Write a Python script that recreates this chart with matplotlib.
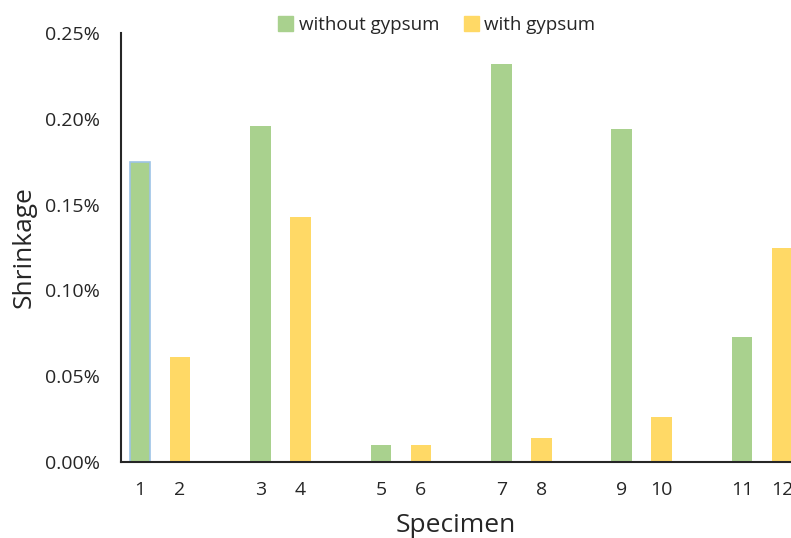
import matplotlib.pyplot as plt
import numpy as np
from matplotlib.ticker import FuncFormatter
from matplotlib.patches import Patch

plt.rcParams['font.family'] = ['Open Sans', 'DejaVu Sans']

specimens_without = ['1', '3', '5', '7', '9', '11']
specimens_with = ['2', '4', '6', '8', '10', '12']
without_gypsum = [0.175, 0.196, 0.010, 0.232, 0.194, 0.073]  # %
with_gypsum = [0.061, 0.143, 0.010, 0.014, 0.026, 0.125]  # %

green = '#A9D18E'
yellow = '#FFD966'

fig = plt.figure(figsize=(7.91, 5.38), dpi=100)
ax = fig.add_axes([120.5 / 791, 76 / 538, 1 - 120.5 / 791, (462 - 33) / 538])

g = np.arange(len(without_gypsum))
off = 0.166
w = 0.17
b1 = ax.bar(g - off, without_gypsum, width=w, color=green)
b2 = ax.bar(g + off, with_gypsum, width=w, color=yellow)
# first bar has a light blue outline in the original
b1[0].set_edgecolor('#9DC3E6')
b1[0].set_linewidth(1.2)

ax.set_xlim(-0.329, 5.24)
ax.set_ylim(0, 0.25)
ax.set_yticks([0, 0.05, 0.10, 0.15, 0.20, 0.25])
ax.yaxis.set_major_formatter(FuncFormatter(lambda v, p: f'{v:.2f}%'))

pos = np.concatenate([g - off, g + off])
labs = specimens_without + specimens_with
ax.set_xticks(pos)
ax.set_xticklabels(labs)
ax.tick_params(axis='both', length=0, labelsize=14, colors='#262626')
ax.tick_params(axis='y', pad=15)
ax.tick_params(axis='x', pad=14)

for s in ['top', 'right']:
    ax.spines[s].set_visible(False)
for s in ['left', 'bottom']:
    ax.spines[s].set_color('#262626')
    ax.spines[s].set_linewidth(1.5)

ax.set_ylabel('Shrinkage', fontsize=19, color='#262626')
ax.yaxis.set_label_coords(-0.125, 0.5)
ax.set_xlabel('Specimen', fontsize=19, color='#262626', labelpad=10)

handles = [Patch(color=green), Patch(color=yellow)]
fig.legend(handles=handles, labels=['without gypsum', 'with gypsum'],
           loc='center', bbox_to_anchor=(437 / 791, 1 - 25 / 538), ncol=2,
           frameon=False, fontsize=13.5, handlelength=0.8, handleheight=0.8,
           columnspacing=1.3, handletextpad=0.3, labelcolor='#262626')

fig.savefig('out.png', dpi=100)
